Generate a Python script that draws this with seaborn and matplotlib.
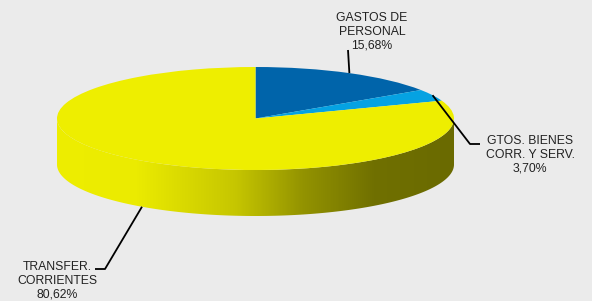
import matplotlib
matplotlib.use("Agg")
import matplotlib.pyplot as plt
import numpy as np
import seaborn as sns
from matplotlib.colors import LinearSegmentedColormap
from matplotlib.patches import Polygon

# data
labels = ["GASTOS DE\nPERSONAL", "GTOS. BIENES\nCORR. Y SERV.", "TRANSFER.\nCORRIENTES"]
shares = [15.68, 3.70, 80.62]
colors = ["#0064AA", "#05A2E2", "#EEEE00"]

sns.set_theme(style="white")
plt.rcParams["font.family"] = ["Liberation Sans", "DejaVu Sans"]

W, H = 592, 301
cx, cy, rx, ry = 255.5, 118.5, 198.5, 51.5   # ellipse in pixels
depth = 46 / ry                               # side height in data units


def px(x, y):
    # pixel position -> data position
    return (x - cx) / rx, (cy - y) / ry


fig = plt.figure(figsize=(W / 100, H / 100), dpi=100)
fig.patch.set_facecolor("#EBEBEB")
ax = fig.add_axes([0, 0, 1, 1])
ax.set_facecolor("#EBEBEB")

# side wall of the 3d pie, shaded from left to right
t = np.linspace(np.pi, 2 * np.pi, 200)
side = np.vstack([np.c_[np.cos(t), np.sin(t)],
                  np.c_[np.cos(t[::-1]), np.sin(t[::-1]) - depth]])
side_cmap = LinearSegmentedColormap.from_list(
    "side", [(0, "#EEEE00"), (0.2, "#EBEB00"), (0.45, "#C6C600"),
             (0.62, "#939300"), (0.8, "#707000"), (1, "#6A6A00")])
poly = Polygon(side, closed=True, facecolor="none", edgecolor="none")
ax.add_patch(poly)
img = ax.imshow(np.linspace(0, 1, 256)[None, :], cmap=side_cmap,
                extent=(-1, 1, -1 - depth, 0.05), aspect="auto", zorder=1)
img.set_clip_path(poly)

# top face
wedges, _ = ax.pie(shares, colors=colors, startangle=90, counterclock=False,
                   radius=1, wedgeprops=dict(linewidth=0, zorder=2))
ax.set_aspect("auto")
ax.set_xlim(px(0, 0)[0], px(W, 0)[0])
ax.set_ylim(px(0, H)[1], px(0, 0)[1])
ax.axis("off")

# leader lines from the middle of each slice
text_pos = [(372, 32), (530, 155), (57, 281)]
elbows = [None, [(470, 144), (480, 144)], [(105, 269), (95, 269)]]
ends = [(348, 50), None, None]
for i, w in enumerate(wedges):
    mid = np.deg2rad((w.theta1 + w.theta2) / 2)
    ax0, ay0 = np.cos(mid), np.sin(mid)
    if ay0 < 0:
        ay0 -= depth
    if elbows[i] is None:
        pts = [(ax0, ay0), px(*ends[i])]
    else:
        pts = [(ax0, ay0)] + [px(*p) for p in elbows[i]]
    pts = np.array(pts)
    ax.plot(pts[:, 0], pts[:, 1], color="black", lw=1.3, zorder=3,
            solid_capstyle="butt")
    tx, ty = px(*text_pos[i])
    pct = f"{shares[i]:.2f}".replace(".", ",") + "%"
    ax.text(tx, ty, labels[i] + "\n" + pct,
            ha="center", va="center", fontsize=8.8, color="#222222",
            linespacing=1.2, zorder=4)

fig.savefig("out.png", dpi=100, facecolor=fig.get_facecolor())
